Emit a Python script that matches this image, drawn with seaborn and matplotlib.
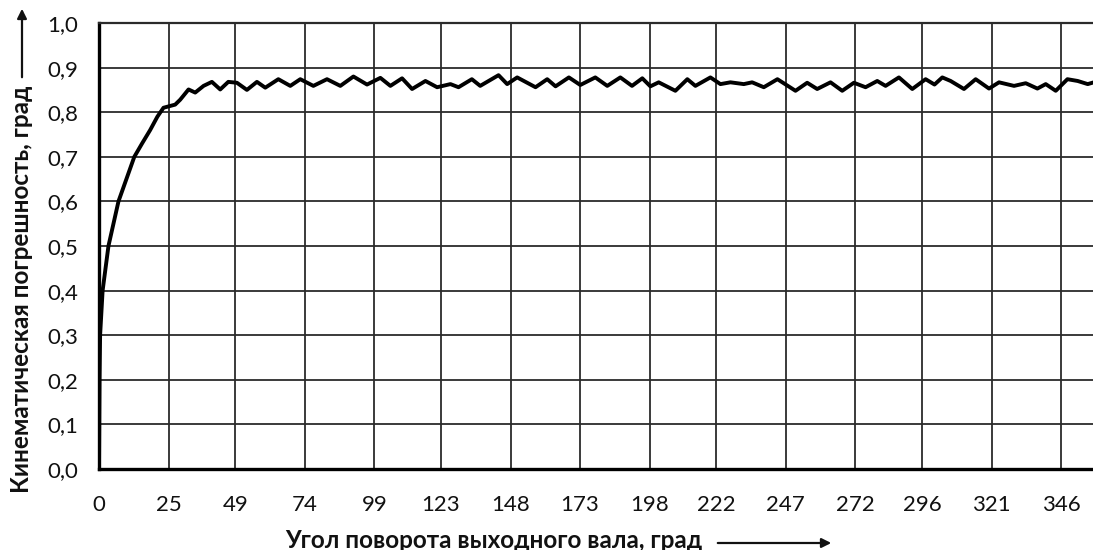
import matplotlib
matplotlib.use("Agg")
import matplotlib.pyplot as plt
import seaborn as sns
import pandas as pd

# ---- data ----
angle = [0, 0.1, 0.2, 0.4, 1.3, 3.4, 7.0, 12.7, 15.5, 18.4, 21.0, 23.2, 27.4, 29.2,
         32.2, 34.6, 37.6, 40.6, 43.6, 46.5, 49.6, 53.2, 56.8, 59.8, 64.5, 68.8,
         72.4, 77.1, 82.0, 86.8, 91.5, 96.4, 101.2, 104.8, 109.0, 112.6, 117.4,
         121.6, 126.4, 129.3, 134.1, 137.1, 143.7, 146.8, 150.4, 157.0, 161.2,
         164.2, 169.0, 173.1, 178.5, 182.8, 187.5, 191.7, 195.4, 198.3, 201.3,
         207.3, 211.6, 214.5, 219.9, 223.5, 227.1, 231.9, 234.9, 239.1, 244.0,
         250.5, 254.7, 258.3, 263.1, 267.3, 271.5, 275.7, 279.9, 282.9, 287.7,
         292.5, 297.3, 300.5, 303.3, 306.3, 311.1, 315.3, 320.1, 323.7, 329.1,
         333.3, 337.5, 340.5, 344.1, 348.3, 352.0, 355.6, 357.8]
error = [0.0, 0.1, 0.2, 0.3, 0.4, 0.5, 0.6, 0.7, 0.73, 0.76, 0.79, 0.81, 0.817, 0.828,
         0.851, 0.844, 0.859, 0.868, 0.851, 0.868, 0.866, 0.850, 0.868, 0.855, 0.874, 0.859,
         0.874, 0.859, 0.874, 0.859, 0.880, 0.862, 0.877, 0.859, 0.876, 0.852, 0.870,
         0.856, 0.863, 0.856, 0.874, 0.859, 0.883, 0.863, 0.878, 0.856, 0.874,
         0.858, 0.878, 0.861, 0.878, 0.859, 0.878, 0.859, 0.876, 0.858, 0.867,
         0.848, 0.874, 0.859, 0.878, 0.863, 0.867, 0.863, 0.867, 0.856, 0.874,
         0.848, 0.866, 0.852, 0.867, 0.848, 0.866, 0.856, 0.870, 0.859, 0.878,
         0.852, 0.874, 0.862, 0.878, 0.870, 0.852, 0.874, 0.853, 0.867, 0.859,
         0.865, 0.853, 0.863, 0.848, 0.874, 0.870, 0.863, 0.867]
x_ticks = [0, 25, 49, 74, 99, 123, 148, 173, 198, 222, 247, 272, 296, 321, 346]
y_ticks = [0.0, 0.1, 0.2, 0.3, 0.4, 0.5, 0.6, 0.7, 0.8, 0.9, 1.0]
x_label = "Угол поворота выходного вала, град"
y_label = "Кинематическая погрешность, град"

sns.set_theme(style="white")
plt.rcParams['font.family'] = ['Lato', 'DejaVu Sans']

W, H = 1093, 550
fig = plt.figure(figsize=(W / 100, H / 100), dpi=100)
fig.patch.set_facecolor("white")
ax = fig.add_axes([99 / W, 1 - 469 / H, 1 - 99 / W, (469 - 23) / H])

df = pd.DataFrame({"angle": angle, "error": error})
sns.lineplot(data=df, x="angle", y="error", ax=ax, color="black", linewidth=2.8,
             sort=False, estimator=None, zorder=5)
ax.lines[0].set_solid_joinstyle("round")
ax.lines[0].set_solid_capstyle("round")

ax.set_xlim(0, 357.5)
ax.set_ylim(0, 1.0)
ax.set_xticks(x_ticks)
ax.set_xticklabels([str(t) for t in x_ticks])
ax.set_yticks(y_ticks)
ax.set_yticklabels([f"{v:.1f}".replace(".", ",") for v in y_ticks])
ax.grid(True, color="#2b2b2b", linewidth=1.3)
ax.set_axisbelow(True)
ax.tick_params(length=0, labelsize=16, labelcolor="#111111")
ax.tick_params(axis="x", pad=19)
ax.tick_params(axis="y", pad=15)
ax.set_xlabel("")
ax.set_ylabel("")
for side in ["left", "bottom"]:
    ax.spines[side].set_color("black")
    ax.spines[side].set_linewidth(2.4)
ax.spines["top"].set_color("#2b2b2b")
ax.spines["top"].set_linewidth(1.6)
ax.spines["right"].set_visible(False)

fig.text(494 / W, 1 - 540 / H, x_label, ha="center", va="center",
         fontsize=17.5, fontweight="bold", color="#111111")
fig.text(22 / W, 1 - 289 / H, y_label, ha="center", va="center", rotation=90,
         fontsize=17.5, fontweight="bold", color="#111111")

fig.add_artist(matplotlib.patches.FancyArrowPatch(
    (715 / W, 1 - 543 / H), (834 / W, 1 - 543 / H), transform=fig.transFigure,
    arrowstyle="-|>", mutation_scale=14, color="#111111", linewidth=1.6))
fig.add_artist(matplotlib.patches.FancyArrowPatch(
    (22 / W, 1 - 80 / H), (22 / W, 1 - 6 / H), transform=fig.transFigure,
    arrowstyle="-|>", mutation_scale=14, color="#111111", linewidth=1.6))

fig.savefig("out.png", dpi=100, facecolor="white")
